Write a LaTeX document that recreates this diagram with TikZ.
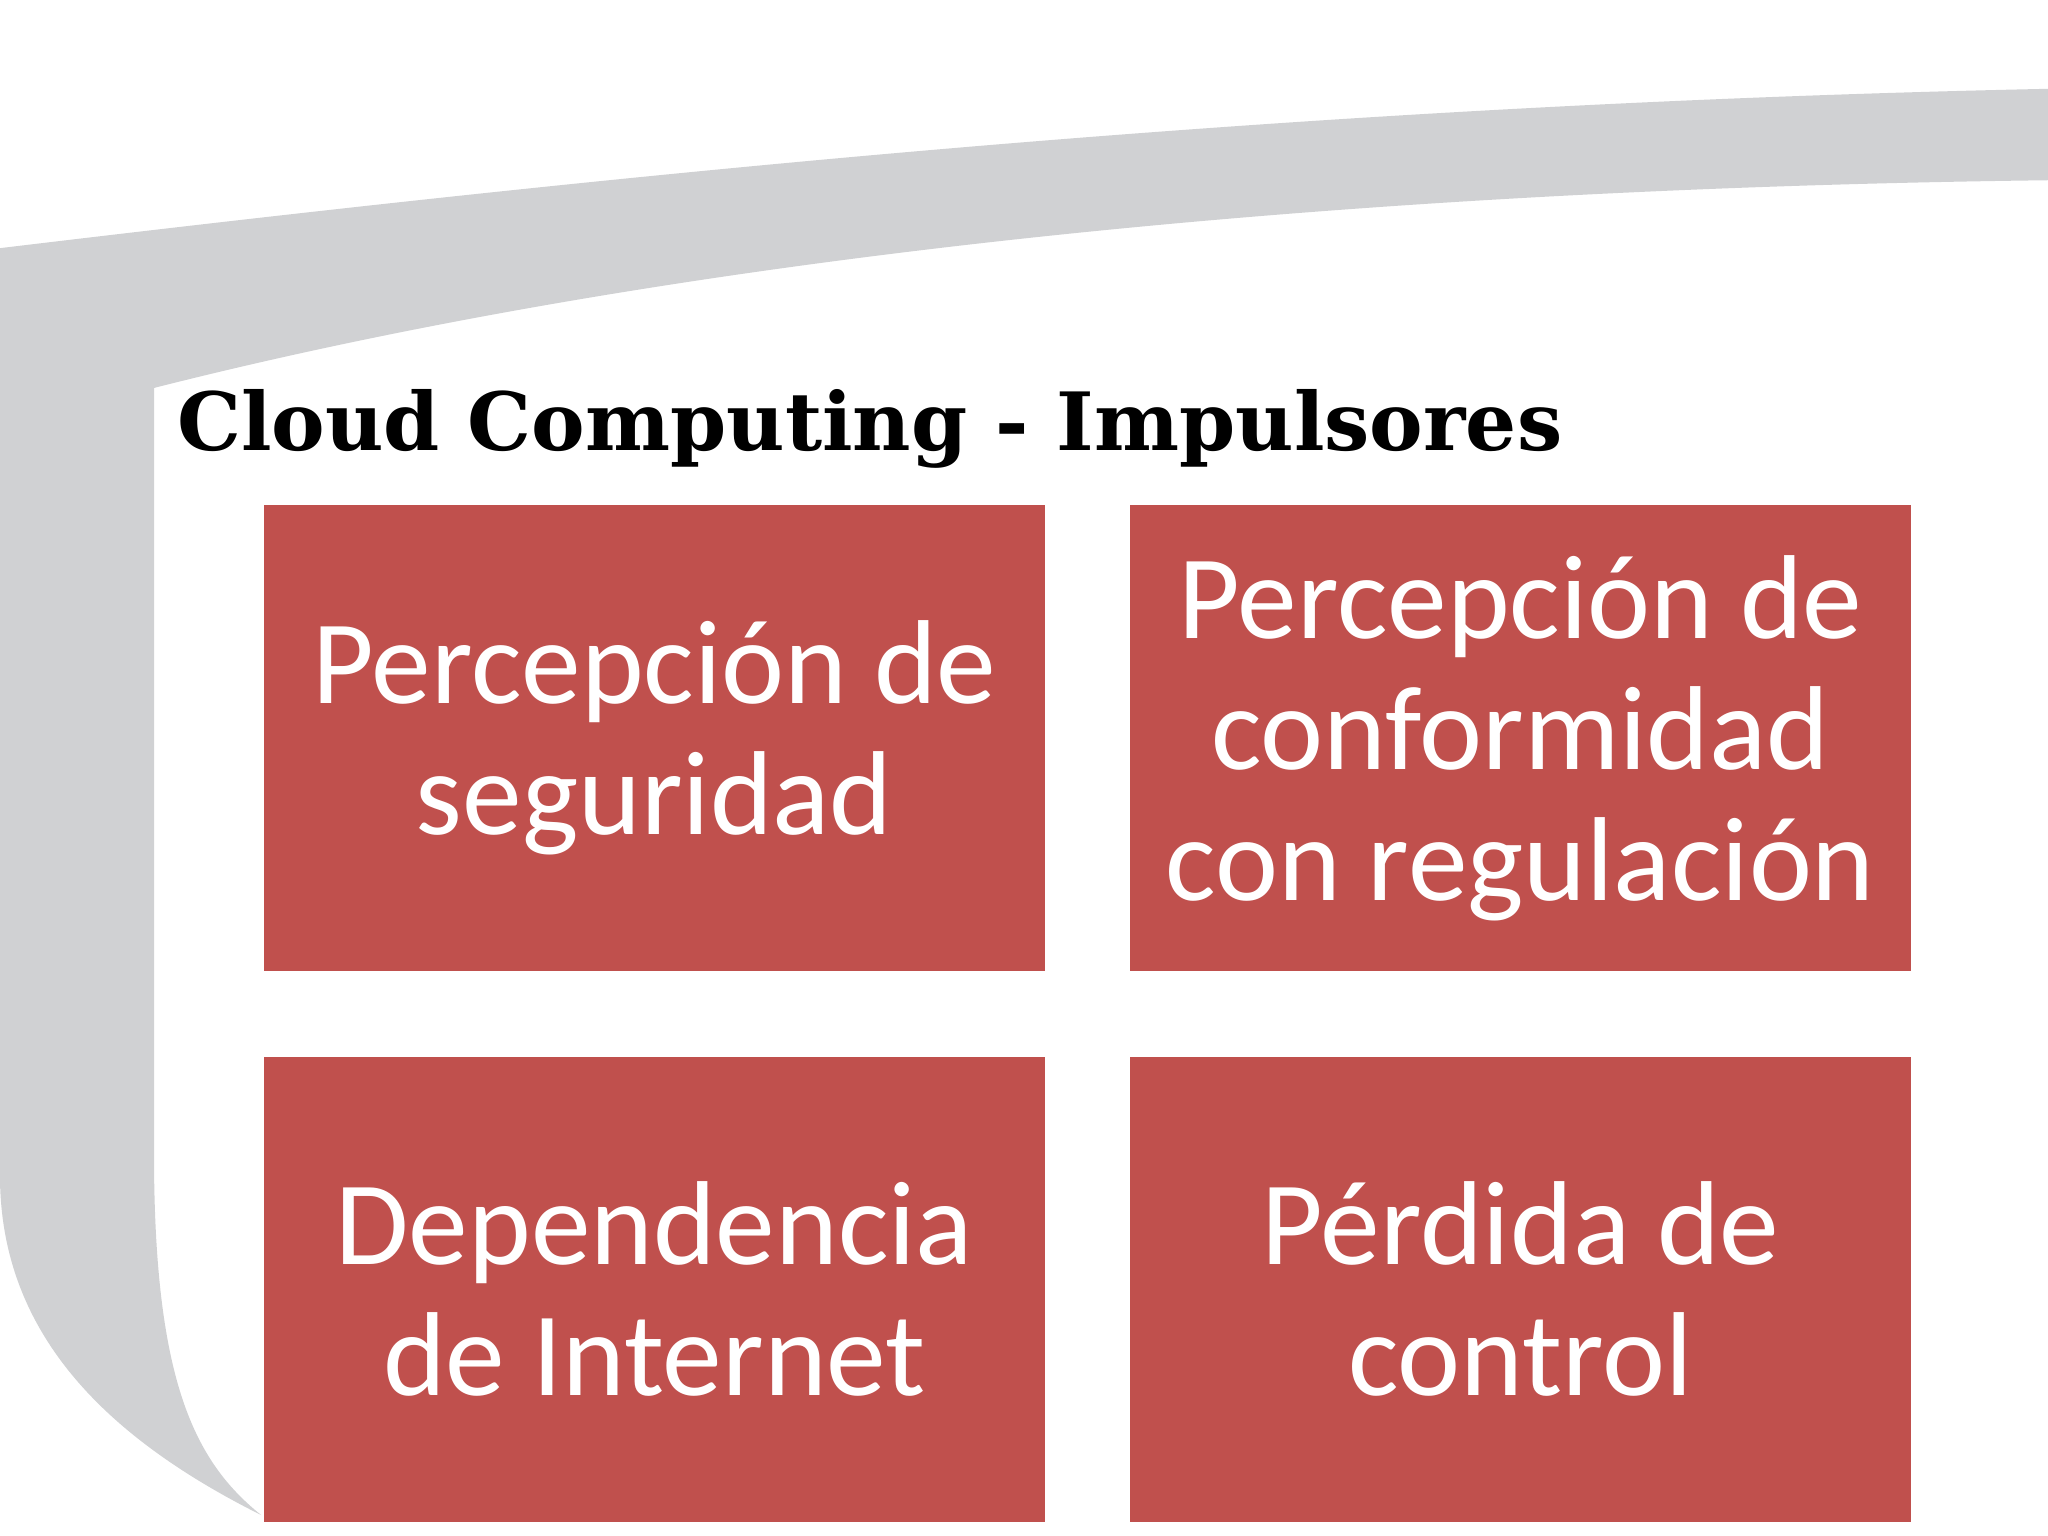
\documentclass[tikz,border=0pt]{standalone}
\usepackage{fontspec}
\setmainfont{Carlito}
\newfontfamily\titlefont{DejaVu Serif}
\definecolor{boxred}{HTML}{C0504D}
\definecolor{swoosh}{HTML}{D0D1D3}
\begin{document}
\begin{tikzpicture}[x=0.01cm,y=-0.01cm,
  tile/.style={fill=boxred,draw=none,minimum width=598\pgflinewidth*0+5.98cm,minimum height=3.56cm,text=white,align=center,font=\fontsize{26}{28.5}\selectfont,inner sep=0pt}]
\useasboundingbox (0,0) rectangle (1568,1176);
\fill[white] (0,0) rectangle (1568,1176);
\fill[swoosh] (0,190) .. controls (500,130) and (1000,80) .. (1568,68)
  -- (1568,138) .. controls (1000,145) and (500,200) .. (118,297)
  -- (118,900) .. controls (120,1060) and (150,1120) .. (200,1160)
  .. controls (80,1100) and (0,1020) .. (0,900) -- cycle;
\node[anchor=base west,font=\titlefont\bfseries\fontsize{17.5}{20}\selectfont,inner sep=0pt] (title) at (135,345) {Cloud Computing - Impulsores};
\node[tile] (a) at (501,565) {Percepción de\\seguridad};
\node[tile] (b) at (1164,565) {Percepción de\\conformidad\\con regulación};
\node[tile] (c) at (501,987) {Dependencia\\de Internet};
\node[tile] (d) at (1164,987) {Pérdida de\\control};
\end{tikzpicture}
\end{document}
